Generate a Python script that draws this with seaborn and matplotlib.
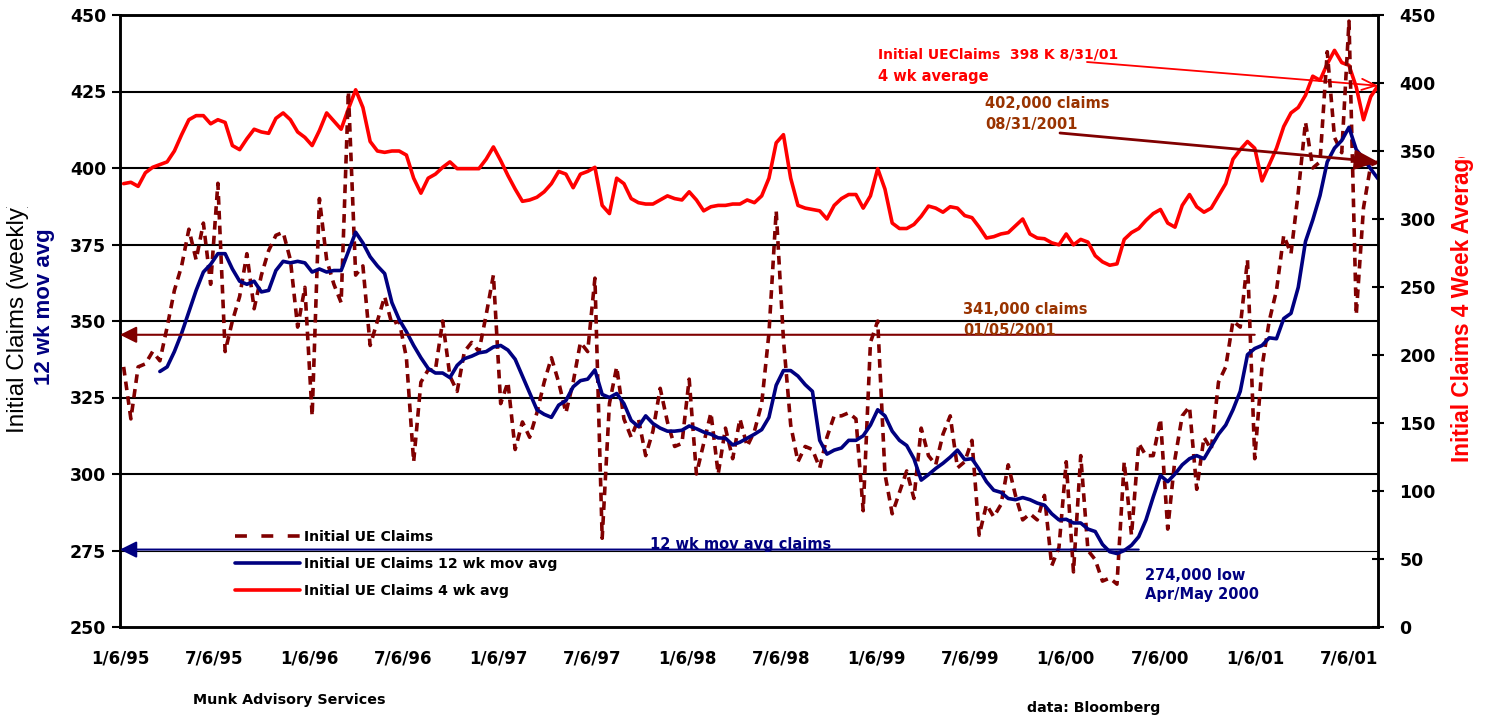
import matplotlib
matplotlib.use("Agg")
import matplotlib.pyplot as plt
import pandas as pd
import seaborn as sns
from matplotlib.lines import Line2D
from matplotlib.transforms import Bbox, TransformedBbox

# Initial UE claims (thousands), every other week up to 8/31/01
claims = [
    335, 318, 335, 336, 340, 337, 348, 360, 368, 380,
    370, 382, 362, 395, 340, 350, 358, 372, 354, 365,
    373, 378, 379, 370, 348, 361, 319, 390, 370, 362,
    356, 425, 365, 368, 342, 350, 358, 349, 350, 338,
    304, 330, 334, 334, 350, 332, 327, 340, 343, 340,
    352, 365, 323, 330, 308, 317, 312, 320, 330, 338,
    330, 320, 330, 343, 340, 364, 279, 323, 335, 318,
    312, 318, 306, 314, 328, 317, 309, 310, 331, 300,
    310, 320, 300, 315, 305, 318, 309, 314, 323, 346,
    386, 344, 316, 304, 309, 308, 302, 312, 319, 319,
    320, 318, 288, 343, 350, 300, 287, 294, 301, 292,
    315, 306, 303, 313, 319, 302, 304, 311, 280, 290,
    286, 290, 303, 293, 285, 287, 285, 293, 270, 276,
    304, 268, 306, 275, 272, 265, 266, 264, 304, 280,
    310, 306, 306, 318, 282, 305, 319, 322, 295, 312,
    308, 330, 335, 350, 348, 370, 305, 335, 350, 360,
    378, 372, 392, 415, 400, 402, 438, 410, 405, 448,
    352, 387, 401, 402,
]

# 4 week average (right scale)
avg_4wk = [
    326, 327, 324, 334, 338, 340, 342, 350, 362, 373,
    376, 376, 370, 373, 371, 354, 351, 359, 366, 364,
    363, 374, 378, 373, 364, 360, 354, 365, 378, 372,
    366, 381, 395, 382, 357, 350, 349, 350, 350, 347,
    330, 319, 330, 333, 338, 342, 337, 337, 337, 337,
    344, 353, 343, 332, 322, 313, 314, 316, 320, 326,
    335, 333, 323, 333, 335, 338, 310, 304, 330, 326,
    315, 312, 311, 311, 314, 317, 315, 314, 320, 314,
    306, 309, 310, 310, 311, 311, 314, 312, 317, 330,
    356, 362, 330, 310, 308, 307, 306, 300, 310, 315,
    318, 318, 308, 317, 337, 322, 297, 293, 293, 296,
    302, 309.5, 308, 305, 309, 308, 302.5, 301, 294, 286,
    287, 289, 290, 295, 300, 289, 286, 285.5, 282.5, 281,
    289, 281, 285, 283, 273, 268.5, 266, 267, 285, 290,
    293, 299, 304, 307, 297, 294, 310, 318, 309, 305,
    308, 317, 326, 344, 351, 357, 352, 328, 340, 352,
    368, 378, 382, 391, 405, 402, 414, 424, 415, 413,
    397, 373, 390, 398,
]

# 12 week moving average (left scale), starts in March 1995
avg_12wk = [
    333.5, 335, 340, 346, 353, 360, 366, 368.5, 372, 372,
    367, 363, 362, 363, 359.5, 360, 366.5, 369.5, 369, 369.5,
    369, 366, 367, 366, 366.5, 366.5, 372.7, 379, 375.5, 371,
    368, 365.5, 356, 350.5, 346.5, 342, 338, 334.5, 333, 333,
    331.5, 335.5, 337.7, 338.5, 339.6, 340, 341.5, 342, 340.5, 337.5,
    332, 326.5, 321, 319.5, 318.5, 322.5, 324, 328.5, 330.5, 331,
    334, 326, 325, 326.3, 323, 317.5, 315.5, 319, 316.5, 315,
    314, 314, 314.3, 315.7, 314.8, 313.7, 313, 311.8, 311.7, 309.5,
    310.4, 311.7, 313, 314.5, 318.5, 329, 333.8, 333.8, 332, 329.2,
    327, 311, 306.5, 307.8, 308.5, 311, 311, 312.5, 316, 321,
    319, 314, 311, 309.3, 305, 298, 299.8, 301.8, 303.5, 305.5,
    307.8, 304.7, 305, 301.5, 297.5, 294.7, 294, 292, 291.6, 292.3,
    291.6, 290.5, 289.8, 287, 285, 285.2, 284, 284, 282, 281.2,
    277, 274.6, 274, 275, 276.7, 279.5, 285, 292.5, 299.5, 297.5,
    300, 303, 305, 306, 305, 309, 313, 316, 321, 327,
    339, 341, 342, 344.5, 344.2, 350.8, 352.5, 361, 376, 383,
    391, 402, 406.5, 409, 413.3, 406, 403, 399.7, 396.5,
]

last_week = "2001-08-31"
first_week = "1995-01-06"
jan_2001 = "2001-01-05"
low_2000 = "2000-05-26"
level_341k = 345.5
level_274k = 275.3

major_dates = ["1995-01-06", "1995-07-06", "1996-01-06", "1996-07-06", "1997-01-06",
               "1997-07-06", "1998-01-06", "1998-07-06", "1999-01-06", "1999-07-06",
               "2000-01-06", "2000-07-06", "2001-01-06", "2001-07-06"]
major_labels = ["1/6/95", "7/6/95", "1/6/96", "7/6/96", "1/6/97", "7/6/97", "1/6/98",
                "7/6/98", "1/6/99", "7/6/99", "1/6/00", "7/6/00", "1/6/01", "7/6/01"]
minor_dates = ["1995-04-06", "1995-10-06", "1996-04-06", "1996-10-06", "1997-04-06",
               "1997-10-06", "1998-04-06", "1998-10-06", "1999-04-06", "1999-10-06",
               "2000-04-06", "2000-10-06", "2001-04-06"]

RED = "#ff0000"
NAVY = "#000080"
MAROON = "#800000"
BROWN = "#993300"
W, H = 1486, 717

sns.set_style("white")
plt.rcParams["font.family"] = ["DejaVu Sans"]
plt.rcParams["font.weight"] = "bold"
plt.rcParams["text.color"] = "black"

claims_dates = pd.date_range(end=last_week, periods=len(claims), freq="14D")
avg4_dates = pd.date_range(end=last_week, periods=len(avg_4wk), freq="14D")
avg12_dates = pd.date_range(end=last_week, periods=len(avg_12wk), freq="14D")

fig = plt.figure(figsize=(W / 100, H / 100), dpi=100)
ax = fig.add_axes([120 / W, 90 / H, 1258 / W, 612 / H])
ax2 = ax.twinx()
ax.set_zorder(ax2.get_zorder() + 1)
ax.patch.set_visible(False)

# horizontal rules on the left scale, kept under the lines
rule = ax.get_yaxis_transform()
for v in [300, 325, 350, 375, 400, 425, 450]:
    ax2.plot([0, 1], [v, v], transform=rule, color="black", lw=1.5, zorder=0)
ax2.plot([0, 1], [275, 275], transform=rule, color="black", lw=0.8, zorder=0)

sns.lineplot(x=avg4_dates, y=avg_4wk, ax=ax2, color=RED, linewidth=2.6)
sns.lineplot(x=claims_dates, y=claims, ax=ax, color=MAROON, linewidth=2.6,
             linestyle=(0, (2.4, 1.7)))
sns.lineplot(x=avg12_dates, y=avg_12wk, ax=ax, color=NAVY, linewidth=2.6)

ax.set_xlim(pd.Timestamp(first_week), pd.Timestamp(last_week))
ax.set_ylim(250, 450)
ax.set_yticks(range(250, 451, 25))
ax2.set_ylim(0, 450)
ax2.set_yticks(range(0, 451, 50))
ax.set_xticks(pd.to_datetime(major_dates))
ax.set_xticklabels(major_labels)
ax.set_xticks(pd.to_datetime(minor_dates), minor=True)
for a in (ax, ax2):
    a.set_xlabel("")
    a.set_ylabel("")
    for s in a.spines.values():
        s.set_linewidth(1.8)
        s.set_color("black")

ax.tick_params(axis="x", which="both", direction="inout", length=9, width=1.5,
               pad=12, labelsize=12, color="black", labelcolor="black")
ax.tick_params(axis="y", direction="out", length=6, width=1.5, pad=4, labelsize=12.5,
               color="black", labelcolor="black")
ax2.tick_params(axis="y", direction="inout", length=9, width=1.5, pad=11, labelsize=12.5,
                color="black", labelcolor="black")

# annotation arrows
ax2.annotate("", xy=(avg4_dates[-1], avg_4wk[-1]), xytext=(1087 / W, 1 - 62 / H),
             textcoords="figure fraction", annotation_clip=False,
             arrowprops=dict(arrowstyle="->,head_length=1.0,head_width=0.4",
                             color=RED, lw=1.3, shrinkA=0, shrinkB=0))
ax.annotate("", xy=(claims_dates[-1], claims[-1]), xytext=(1060 / W, 1 - 133 / H),
            textcoords="figure fraction", annotation_clip=False,
            arrowprops=dict(arrowstyle="-|>,head_length=1.4,head_width=0.6",
                            color=MAROON, lw=2, shrinkA=0, shrinkB=0))
ax.annotate("", xy=(pd.Timestamp(first_week), level_341k),
            xytext=(pd.Timestamp(jan_2001), level_341k), annotation_clip=False,
            arrowprops=dict(arrowstyle="-|>,head_length=1.0,head_width=0.5",
                            color=MAROON, lw=1.5, shrinkA=0, shrinkB=0))
ax.annotate("", xy=(pd.Timestamp(first_week), level_274k),
            xytext=(pd.Timestamp(low_2000), level_274k), annotation_clip=False,
            arrowprops=dict(arrowstyle="-|>,head_length=1.0,head_width=0.5",
                            color=NAVY, lw=1.5, shrinkA=0, shrinkB=0))

note = dict(fontsize=10.5, fontweight="bold", ha="left", va="center")
fig.text(878 / W, 1 - 55 / H, "Initial UEClaims  398 K 8/31/01", color=RED,
         fontsize=10, fontweight="bold", ha="left", va="center")
fig.text(878 / W, 1 - 76 / H, "4 wk average", color=RED, **note)
fig.text(985 / W, 1 - 103 / H, "402,000 claims", color=BROWN, **note)
fig.text(985 / W, 1 - 124 / H, "08/31/2001", color=BROWN, **note)
fig.text(963 / W, 1 - 310 / H, "341,000 claims", color=BROWN, **note)
fig.text(963 / W, 1 - 330 / H, "01/05/2001", color=BROWN, **note)
fig.text(650 / W, 1 - 544 / H, "12 wk mov avg claims", color=NAVY, **note)
fig.text(1145 / W, 1 - 575 / H, "274,000 low", color=NAVY, **note)
fig.text(1145 / W, 1 - 594 / H, "Apr/May 2000", color=NAVY, **note)
fig.text(193 / W, 1 - 700 / H, "Munk Advisory Services", color="black",
         fontsize=10.3, fontweight="bold", ha="left", va="center")
fig.text(1027 / W, 1 - 708 / H, "data: Bloomberg", color="black",
         fontsize=10.2, fontweight="bold", ha="left", va="center")

# axis titles (cut at the top like the original)
sans = ["Liberation Sans"]
t = fig.text(18 / W, 1 - 433 / H, "Initial Claims (weekly)", rotation=90, ha="center",
             va="bottom", fontsize=17.5, fontweight="normal", family=sans, color="black")
t.set_clip_box(TransformedBbox(Bbox([[0, 0], [0.025, 1 - 207 / H]]), fig.transFigure))
fig.text(45 / W, 1 - 385 / H, "12 wk mov avg", rotation=90, ha="center", va="bottom",
         fontsize=16, fontweight="bold", family=sans, color=NAVY)
t = fig.text(1463 / W, 1 - 462 / H, "Initial Claims 4 Week Average", rotation=90,
             ha="center", va="bottom", fontsize=16.3, fontweight="bold", family=sans,
             color=RED)
t.set_clip_box(TransformedBbox(Bbox([[0.97, 0], [1, 1 - 157 / H]]), fig.transFigure))

handles = [
    Line2D([], [], color=MAROON, lw=2.6, linestyle=(0, (3.3, 4))),
    Line2D([], [], color=NAVY, lw=2.6),
    Line2D([], [], color=RED, lw=2.6),
]
labels = ["Initial UE Claims", "Initial UE Claims 12 wk mov avg", "Initial UE Claims 4 wk avg"]
leg = fig.legend(handles, labels, loc="upper left", bbox_to_anchor=(235 / W, 1 - 530 / H),
                 frameon=False, borderpad=0, borderaxespad=0, handlelength=4.6,
                 handletextpad=0.3, labelspacing=0.9,
                 prop=dict(weight="bold", size=10.2, family="DejaVu Sans"))
for txt in leg.get_texts():
    txt.set_color("black")

fig.savefig("out.png", dpi=100)
